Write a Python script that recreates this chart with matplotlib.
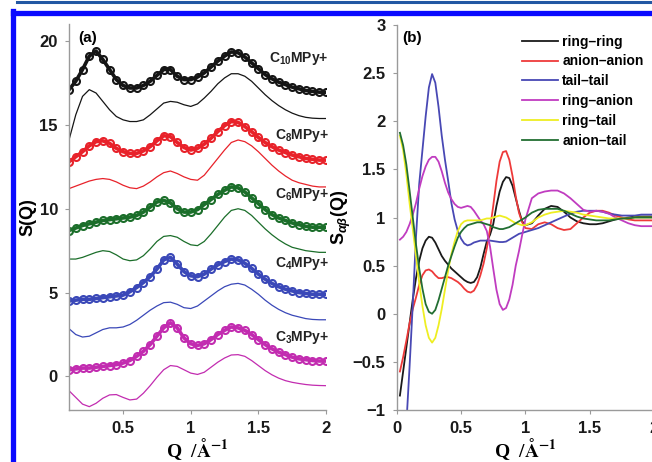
import numpy as np
import matplotlib
matplotlib.use('Agg')
import matplotlib.pyplot as plt
from matplotlib.lines import Line2D

plt.rcParams['font.family'] = ['Liberation Sans', 'DejaVu Sans']
plt.rcParams['font.weight'] = 'bold'
# sans bold maths for subscripts, serif only for the Q axis title
plt.rcParams['mathtext.fontset'] = 'custom'
plt.rcParams['mathtext.rm'] = 'Liberation Sans:bold'
plt.rcParams['mathtext.it'] = 'Liberation Sans:italic:bold'
plt.rcParams['mathtext.bf'] = 'Liberation Sans:bold'

# ---------------- data (a) : S(Q), experiment (circles) + simulation (lines)
q_a = np.round(np.arange(0.10, 2.001, 0.05), 2)

c10_exp = [17.1, 17.6, 18.3, 19.1, 19.4, 18.9, 18.3, 17.7, 17.35, 17.2,
           17.2, 17.35, 17.6, 17.95, 18.3, 18.3, 17.9, 17.7, 17.7, 17.85,
           18.1, 18.45, 18.8, 19.1, 19.35, 19.3, 19.05, 18.7, 18.35, 18.0,
           17.75, 17.55, 17.4, 17.25, 17.15, 17.05, 17.0, 16.95, 16.95]
c10_sim = [14.1, 15.6, 16.7, 17.1, 16.9, 16.4, 15.9, 15.5, 15.3, 15.2,
           15.2, 15.3, 15.6, 15.95, 16.3, 16.4, 16.35, 16.2, 16.1, 16.25,
           16.6, 17.0, 17.45, 17.8, 18.05, 18.05, 17.9, 17.6, 17.2, 16.8,
           16.45, 16.15, 15.9, 15.7, 15.55, 15.45, 15.4, 15.38, 15.38]
c8_exp = [12.8, 13.1, 13.4, 13.75, 14.0, 14.05, 13.9, 13.6, 13.4, 13.3,
          13.3, 13.45, 13.7, 14.05, 14.35, 14.3, 13.95, 13.65, 13.5, 13.6,
          13.85, 14.2, 14.6, 14.95, 15.2, 15.15, 14.9, 14.6, 14.25, 13.95,
          13.7, 13.5, 13.35, 13.2, 13.1, 13.0, 12.95, 12.9, 12.9]
c8_sim = [11.2, 11.35, 11.5, 11.65, 11.75, 11.8, 11.75, 11.6, 11.4, 11.25,
          11.2, 11.35, 11.6, 11.9, 12.15, 12.25, 12.1, 11.9, 11.75, 11.7,
          12.0, 12.5, 13.0, 13.5, 13.95, 14.1, 14.0, 13.75, 13.4, 13.0,
          12.6, 12.25, 11.95, 11.7, 11.55, 11.45, 11.35, 11.3, 11.3]
c6_exp = [8.7, 8.85, 9.0, 9.1, 9.2, 9.3, 9.35, 9.4, 9.45, 9.5,
          9.6, 9.8, 10.1, 10.4, 10.5, 10.35, 10.0, 9.8, 9.8, 9.95,
          10.25, 10.55, 10.85, 11.1, 11.3, 11.25, 11.0, 10.65, 10.3, 9.95,
          9.65, 9.45, 9.3, 9.15, 9.05, 8.95, 8.9, 8.9, 8.9]
c6_sim = [7.0, 7.0, 7.1, 7.25, 7.4, 7.5, 7.45, 7.25, 7.0, 6.9,
          6.95, 7.2, 7.6, 8.05, 8.35, 8.4, 8.3, 8.05, 7.85, 7.8,
          8.05, 8.5, 9.0, 9.5, 9.9, 10.0, 9.9, 9.6, 9.2, 8.8,
          8.45, 8.15, 7.9, 7.7, 7.6, 7.5, 7.45, 7.4, 7.4]
c4_exp = [4.5, 4.55, 4.6, 4.6, 4.65, 4.7, 4.75, 4.8, 4.85, 5.05,
          5.3, 5.6, 5.95, 6.4, 6.95, 7.1, 6.7, 6.25, 6.0, 5.95,
          6.1, 6.4, 6.65, 6.85, 7.0, 6.95, 6.75, 6.45, 6.1, 5.8,
          5.55, 5.35, 5.2, 5.1, 5.0, 4.95, 4.9, 4.9, 4.9]
c4_sim = [2.85, 2.5, 2.35, 2.4, 2.6, 2.8, 2.9, 2.9, 2.95, 3.1,
          3.35, 3.65, 3.95, 4.2, 4.4, 4.43, 4.3, 4.1, 4.05, 4.2,
          4.5, 4.8, 5.1, 5.35, 5.5, 5.55, 5.45, 5.2, 4.9, 4.55,
          4.25, 4.0, 3.8, 3.65, 3.55, 3.45, 3.4, 3.38, 3.38]
c3_exp = [0.4, 0.45, 0.5, 0.5, 0.55, 0.6, 0.65, 0.7, 0.8, 0.95,
          1.2, 1.5, 1.9, 2.4, 2.9, 3.2, 2.9, 2.3, 1.95, 1.85,
          1.95, 2.2, 2.5, 2.75, 2.95, 2.9, 2.75, 2.5, 2.2, 1.9,
          1.65, 1.45, 1.3, 1.15, 1.05, 1.0, 0.95, 0.92, 0.92]
c3_sim = [-0.85, -1.25, -1.65, -1.8, -1.6, -1.3, -1.1, -1.08, -1.25, -1.4,
          -1.35, -1.0, -0.55, -0.05, 0.4, 0.65, 0.6, 0.4, 0.2, 0.12,
          0.25, 0.55, 0.85, 1.1, 1.28, 1.3, 1.2, 0.95, 0.65, 0.35,
          0.1, -0.1, -0.25, -0.35, -0.42, -0.48, -0.52, -0.54, -0.55]

cation_names = [r'C$_{10}$MPy+', r'C$_{8}$MPy+', r'C$_{6}$MPy+', r'C$_{4}$MPy+', r'C$_{3}$MPy+']
cation_label_y = [18.98, 14.39, 10.85, 6.75, 2.33]
cols_a = ['#151515', '#e8222a', '#1b6e2a', '#3a48b8', '#c22cb0']

# ---------------- data (b) : partial S_ab(Q)
q_b = np.round(np.concatenate([np.arange(1, 41) * 0.025, 1.0 + np.arange(1, 21) * 0.05]), 3)

ring_ring = [-0.85, -0.6, -0.35, -0.1, 0.15, 0.37, 0.55, 0.68, 0.76, 0.8,
             0.79, 0.74, 0.67, 0.6, 0.55, 0.51, 0.47, 0.44, 0.41, 0.38,
             0.35, 0.33, 0.32, 0.33, 0.38, 0.48, 0.62, 0.75, 0.82, 0.93,
             1.12, 1.27, 1.37, 1.42, 1.41, 1.33, 1.2, 1.07, 0.96, 0.92,
             0.94, 1.02, 1.09, 1.12, 1.11, 1.06, 1.0, 0.96, 0.94, 0.93,
             0.93, 0.94, 0.96, 0.98, 0.99, 1.0, 1.01, 1.01, 1.01, 1.01]
anion_anion = [-0.6, -0.45, -0.28, -0.1, 0.05, 0.17, 0.3, 0.4, 0.45, 0.46,
               0.44, 0.4, 0.37, 0.37, 0.38, 0.38, 0.37, 0.35, 0.33, 0.3,
               0.26, 0.23, 0.22, 0.24, 0.3, 0.4, 0.52, 0.68, 0.88, 1.12,
               1.38, 1.58, 1.68, 1.69, 1.6, 1.43, 1.22, 1.05, 0.95, 0.89,
               0.88, 0.93, 0.95, 0.93, 0.89, 0.87, 0.88, 0.94, 1.0, 1.05,
               1.07, 1.07, 1.05, 1.02, 1.0, 0.98, 0.97, 0.97, 0.97, 0.97]
tail_tail = [-2.5, -1.9, -1.15, -0.55, 0.1, 0.8, 1.35, 1.7, 2.05, 2.35,
             2.49, 2.4, 2.15, 1.85, 1.6, 1.38, 1.15, 0.98, 0.86, 0.78,
             0.73, 0.71, 0.72, 0.74, 0.75, 0.76, 0.76, 0.76, 0.76, 0.755,
             0.75, 0.745, 0.745, 0.75, 0.77, 0.79, 0.81, 0.83, 0.84, 0.85,
             0.87, 0.89, 0.92, 0.95, 0.98, 1.01, 1.04, 1.06, 1.07, 1.07,
             1.07, 1.06, 1.04, 1.03, 1.02, 1.02, 1.02, 1.03, 1.03, 1.03]
ring_anion = [0.77, 0.8, 0.85, 0.93, 1.03, 1.15, 1.3, 1.43, 1.53, 1.6,
              1.63, 1.63, 1.58, 1.48, 1.36, 1.26, 1.19, 1.14, 1.11, 1.1,
              1.11, 1.12, 1.11, 1.07, 1.02, 0.97, 0.93, 0.86, 0.7, 0.47,
              0.25, 0.1, 0.04, 0.06, 0.15, 0.3, 0.5, 0.65, 0.82, 0.98,
              1.2, 1.25, 1.27, 1.28, 1.28, 1.25, 1.2, 1.14, 1.08, 1.06,
              1.07, 1.06, 1.04, 1.0, 0.97, 0.94, 0.92, 0.91, 0.91, 0.91]
ring_tail = [1.85, 1.7, 1.45, 1.15, 0.88, 0.6, 0.32, 0.08, -0.12, -0.25,
             -0.3, -0.25, -0.12, 0.05, 0.25, 0.45, 0.62, 0.75, 0.86, 0.93,
             0.96, 0.97, 0.97, 0.97, 0.97, 0.97, 0.98, 0.99, 0.99, 1.0,
             1.01, 1.02, 1.01, 1.0, 0.98, 0.96, 0.94, 0.93, 0.92, 0.92,
             0.95, 1.0, 1.03, 1.05, 1.06, 1.07, 1.06, 1.05, 1.03, 1.02,
             1.01, 1.0, 0.99, 0.99, 0.99, 0.99, 1.0, 1.0, 1.0, 1.0]
anion_tail = [1.88, 1.75, 1.55, 1.28, 1.0, 0.72, 0.47, 0.26, 0.1, 0.02,
              0.0, 0.04, 0.14, 0.26, 0.38, 0.5, 0.6, 0.7, 0.79, 0.85,
              0.89, 0.92, 0.93, 0.94, 0.95, 0.95, 0.94, 0.93, 0.92, 0.9,
              0.89, 0.88, 0.88, 0.89, 0.9, 0.92, 0.94, 0.96, 0.98, 1.0,
              1.05, 1.08, 1.09, 1.09, 1.09, 1.07, 1.04, 1.01, 0.99, 0.98,
              0.97, 0.97, 0.97, 0.98, 0.99, 0.99, 1.0, 1.0, 1.0, 1.0]

pair_labels = ['ring\u2013ring', 'anion\u2013anion', 'tail\u2013tail',
               'ring\u2013anion', 'ring\u2013tail', 'anion\u2013tail']
cols_b = ['#1a1a1a', '#ee3a3a', '#4848b4', '#c03cc0', '#eeee22', '#226e32']

# ---------------- figure
fig = plt.figure(figsize=(6.52, 4.62), dpi=100)
fig.patch.set_facecolor('white')

# the blue frame of the page
fig.add_artist(Line2D([17/652, 1.0], [1-1.5/462, 1-1.5/462], transform=fig.transFigure, color='#2257a3', lw=2.2))
fig.add_artist(Line2D([12.5/652, 1.0], [1-13.3/462, 1-13.3/462], transform=fig.transFigure, color='#0a0aff', lw=3.8))
fig.add_artist(Line2D([12.5/652, 12.5/652], [0, 1-11/462], transform=fig.transFigure, color='#0a0aff', lw=3.8))

ax1 = fig.add_axes([69/652, 1-410/462, 257/652, (410-24.25)/462])
ax2 = fig.add_axes([396.7/652, 1-410/462, 257.4/652, (410-25)/462])

exp_sets = [c10_exp, c8_exp, c6_exp, c4_exp, c3_exp]
sim_sets = [c10_sim, c8_sim, c6_sim, c4_sim, c3_sim]
for e, s, c, name, ly in zip(exp_sets, sim_sets, cols_a, cation_names, cation_label_y):
    ax1.plot(q_a, s, color=c, lw=0.9)
    ax1.plot(q_a, e, color=c, lw=2.6, marker='o', ms=5, mfc='none', mew=1.5)
    ax1.text(2.02, ly, name, ha='right', va='center', fontsize=10, fontweight='bold', color='#222222')

ax1.set_xlim(0.1, 2.0)
ax1.set_ylim(-2, 21)
ax1.set_xticks([0.5, 1, 1.5, 2])
ax1.set_xticklabels(['0.5', '1', '1.5', '2'])
ax1.set_yticks([0, 5, 10, 15, 20])
# y titles placed by hand (center x in pixels: 28 and 341)
ax1.text(-0.1595, 0.5, 'S(Q)', transform=ax1.transAxes, rotation=90, ha='center', va='center',
         fontsize=13, fontweight='bold')
ax1.text(0.035, 0.965, '(a)', transform=ax1.transAxes, fontsize=11, fontweight='bold', va='center')

pairs = [ring_ring, anion_anion, tail_tail, ring_anion, ring_tail, anion_tail]
for vals, c, lab in zip(pairs, cols_b, pair_labels):
    ax2.plot(q_b, vals, color=c, lw=1.3, label=lab)

ax2.set_xlim(0, 2.0)
ax2.set_ylim(-1, 3)
ax2.set_xticks([0, 0.5, 1, 1.5, 2])
ax2.set_xticklabels(['0', '0.5', '1', '1.5', '2'])
ax2.set_yticks([-1, -0.5, 0, 0.5, 1, 1.5, 2, 2.5, 3])
ax2.set_yticklabels(['\u22121', '\u22120.5', '0', '0.5', '1', '1.5', '2', '2.5', '3'])
ax2.text(-0.216, 0.5, r'S$_{\alpha\beta}$(Q)', transform=ax2.transAxes, rotation=90, ha='center', va='center',
         fontsize=13, fontweight='bold')
ax2.text(0.02, 0.965, '(b)', transform=ax2.transAxes, fontsize=11, fontweight='bold', va='center')
ax2.legend(loc='upper left', bbox_to_anchor=(0.487, 0.975), frameon=False, fontsize=10,
           handlelength=2.6, handletextpad=0.3, labelspacing=0.42, borderpad=0, borderaxespad=0)

for ax in (ax1, ax2):
    for sp in ['top', 'right']:
        ax.spines[sp].set_visible(False)
    for sp in ['left', 'bottom']:
        ax.spines[sp].set_color('#9a9a9a')
        ax.spines[sp].set_linewidth(1.0)
    ax.tick_params(direction='out', length=3, width=0.8, color='#9a9a9a', labelsize=12, labelcolor='#1a1a1a', pad=5)
    for t in ax.get_xticklabels() + ax.get_yticklabels():
        t.set_fontweight('bold')
    xl = ax.set_xlabel(r'Q  /$\mathbf{\AA^{-1}}$', fontsize=14, family='Liberation Serif', fontweight='bold', labelpad=0)
    xl.set_math_fontfamily('stix')
    ax.patch.set_alpha(0)

plt.savefig('out.png', dpi=100)
